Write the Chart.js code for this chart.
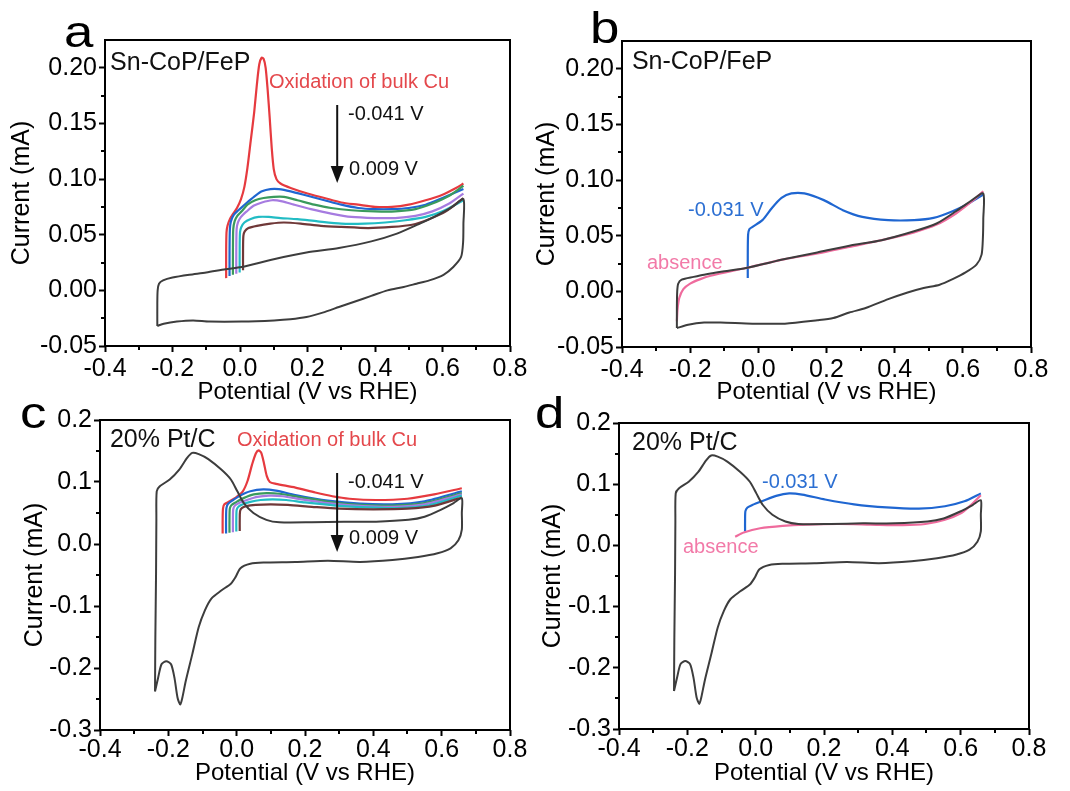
<!DOCTYPE html>
<html>
<head>
<meta charset="utf-8">
<title>Cu UPD cyclic voltammograms</title>
<script src="https://cdn.jsdelivr.net/npm/chart.js@4.4.1/dist/chart.umd.min.js"></script>
<style>
  html, body { margin: 0; padding: 0; background: #fff; }
  body { width: 1070px; height: 791px; position: relative; overflow: hidden; }
  canvas { position: absolute; }
</style>
</head>
<body>
<canvas id="pa" width="540" height="410" style="left:0;top:0"></canvas>
<canvas id="pb" width="540" height="410" style="left:530px;top:0"></canvas>
<canvas id="pc" width="540" height="396" style="left:0;top:395px"></canvas>
<canvas id="pd" width="540" height="396" style="left:530px;top:395px"></canvas>
<script>
// ---------- axis ticks ----------
const potentialTicks = [-0.4, -0.2, 0.0, 0.2, 0.4, 0.6, 0.8];
const snCurrentTicks = [-0.05, 0.00, 0.05, 0.10, 0.15, 0.20];
const ptCurrentTicks = [-0.3, -0.2, -0.1, 0.0, 0.1, 0.2];

// ---------- (a) Sn-CoP/FeP, Cu UPD at different deposition potentials [E (V vs RHE), I (mA)] ----------
const snBase = [[-0.245,-0.032],[-0.245,-0.012],[-0.244,0.000],[-0.240,0.006],[-0.228,0.009],[-0.200,0.0115],[-0.150,0.014],[-0.100,0.016],[-0.043,0.019],[0.005,0.021],[0.100,0.028],[0.197,0.034],[0.293,0.038],[0.389,0.044],[0.465,0.051],[0.533,0.060],[0.581,0.067],[0.629,0.075],[0.662,0.082],
  [0.662,0.060],[0.661,0.043],[0.655,0.030],[0.632,0.021],[0.603,0.014],[0.561,0.009],[0.523,0.006],[0.485,0.003],[0.437,0.000],[0.389,-0.005],[0.341,-0.010],[0.293,-0.015],[0.245,-0.020],[0.197,-0.024],[0.149,-0.026],[0.101,-0.027],[0.005,-0.028],[-0.091,-0.028],[-0.139,-0.027],[-0.187,-0.028],[-0.226,-0.030],[-0.245,-0.032]];
const snUpd041 = [[-0.041,0.011],[-0.041,0.035],[-0.040,0.052],[-0.037,0.058],[-0.030,0.064],[-0.020,0.069],[-0.009,0.074],[0.003,0.082],[0.013,0.093],[0.022,0.110],[0.032,0.135],[0.042,0.160],[0.050,0.185],[0.057,0.203],[0.064,0.209],[0.070,0.208],[0.076,0.200],[0.082,0.180],[0.088,0.155],[0.094,0.128],[0.100,0.109],[0.108,0.100],[0.120,0.096],[0.150,0.092],[0.200,0.087],[0.250,0.083],[0.300,0.079],[0.350,0.077],[0.400,0.075],[0.450,0.075],[0.500,0.077],[0.550,0.081],[0.600,0.086],[0.640,0.092],[0.662,0.096]];
const snUpd031 = [[-0.031,0.013],[-0.031,0.035],[-0.030,0.055],[-0.027,0.062],[-0.018,0.068],[-0.005,0.072],[0.010,0.076],[0.025,0.080],[0.045,0.085],[0.065,0.089],[0.090,0.091],[0.115,0.091],[0.150,0.089],[0.200,0.085],[0.250,0.081],[0.300,0.077],[0.350,0.074],[0.400,0.073],[0.450,0.073],[0.500,0.074],[0.550,0.077],[0.600,0.083],[0.662,0.091]];
const snUpd021 = [[-0.021,0.014],[-0.021,0.035],[-0.020,0.055],[-0.016,0.062],[-0.008,0.067],[0.005,0.071],[0.022,0.077],[0.045,0.081],[0.070,0.083],[0.100,0.084],[0.130,0.084],[0.170,0.081],[0.220,0.077],[0.270,0.074],[0.330,0.072],[0.400,0.071],[0.460,0.071],[0.520,0.073],[0.570,0.078],[0.620,0.085],[0.662,0.094]];
const snUpd011 = [[-0.011,0.015],[-0.011,0.035],[-0.010,0.055],[-0.006,0.061],[0.003,0.066],[0.020,0.071],[0.040,0.076],[0.065,0.079],[0.095,0.081],[0.125,0.080],[0.160,0.077],[0.210,0.073],[0.270,0.069],[0.330,0.066],[0.400,0.065],[0.460,0.065],[0.520,0.067],[0.570,0.071],[0.620,0.078],[0.662,0.087]];
const snUpd001 = [[-0.001,0.016],[-0.001,0.035],[0.000,0.052],[0.004,0.057],[0.013,0.061],[0.030,0.064],[0.055,0.066],[0.085,0.066],[0.120,0.065],[0.170,0.064],[0.230,0.062],[0.300,0.060],[0.370,0.060],[0.430,0.061],[0.490,0.063],[0.550,0.066],[0.600,0.071],[0.662,0.081]];
const snUpd009 = [[0.009,0.018],[0.009,0.035],[0.010,0.049],[0.014,0.053],[0.025,0.056],[0.050,0.058],[0.090,0.060],[0.130,0.061],[0.180,0.060],[0.240,0.058],[0.300,0.057],[0.380,0.056],[0.450,0.057],[0.510,0.059],[0.560,0.064],[0.610,0.071],[0.662,0.083]];

// ---------- (b) Sn-CoP/FeP, with and without Cu2+ ----------
const snBaseB = [[-0.239,-0.033],[-0.239,-0.015],[-0.238,0.000],[-0.235,0.007],[-0.225,0.0105],[-0.190,0.013],[-0.159,0.015],[-0.100,0.018],[-0.036,0.021],[0.078,0.029],[0.173,0.035],[0.267,0.041],[0.362,0.046],[0.457,0.054],[0.523,0.061],[0.580,0.072],[0.627,0.082],[0.660,0.088],
  [0.660,0.065],[0.659,0.049],[0.655,0.033],[0.640,0.024],[0.608,0.017],[0.570,0.011],[0.532,0.006],[0.485,0.003],[0.438,-0.001],[0.381,-0.007],[0.315,-0.015],[0.267,-0.019],[0.220,-0.024],[0.173,-0.026],[0.078,-0.029],[-0.017,-0.029],[-0.111,-0.028],[-0.159,-0.028],[-0.206,-0.030],[-0.239,-0.033]];
const snAbsence = [[-0.239,-0.027],[-0.237,-0.016],[-0.232,-0.006],[-0.220,0.002],[-0.200,0.007],[-0.170,0.011],[-0.140,0.014],[-0.036,0.021],[0.078,0.029],[0.173,0.034],[0.267,0.040],[0.362,0.046],[0.457,0.053],[0.523,0.060],[0.580,0.070],[0.627,0.081],[0.660,0.090]];
const snUpdB = [[-0.031,0.012],[-0.031,0.032],[-0.030,0.051],[-0.026,0.056],[-0.017,0.058],[0.012,0.064],[0.040,0.075],[0.068,0.084],[0.097,0.088],[0.135,0.088],[0.192,0.082],[0.248,0.073],[0.305,0.067],[0.381,0.064],[0.457,0.064],[0.514,0.066],[0.570,0.072],[0.617,0.079],[0.660,0.087]];

// ---------- (c) 20% Pt/C, Cu UPD at different deposition potentials ----------
const ptBase = [[-0.239,-0.238],[-0.238,-0.150],[-0.236,-0.050],[-0.235,0.040],[-0.234,0.085],[-0.225,0.093],[-0.196,0.104],[-0.168,0.120],[-0.145,0.139],[-0.130,0.147],[-0.111,0.145],[-0.083,0.137],[-0.045,0.120],[-0.017,0.104],[0.002,0.085],[0.021,0.066],[0.049,0.050],[0.087,0.039],[0.125,0.035],[0.219,0.035],[0.314,0.036],[0.408,0.036],[0.503,0.039],[0.550,0.044],[0.597,0.055],[0.635,0.066],[0.659,0.074],
  [0.659,0.050],[0.659,0.023],[0.649,0.006],[0.626,-0.007],[0.588,-0.015],[0.531,-0.021],[0.456,-0.026],[0.361,-0.029],[0.267,-0.027],[0.172,-0.029],[0.078,-0.030],[0.040,-0.032],[0.011,-0.039],[-0.003,-0.053],[-0.017,-0.064],[-0.045,-0.075],[-0.074,-0.088],[-0.093,-0.107],[-0.111,-0.134],[-0.130,-0.178],[-0.149,-0.221],[-0.159,-0.248],[-0.165,-0.259],[-0.173,-0.248],[-0.182,-0.216],[-0.192,-0.194],[-0.206,-0.189],[-0.220,-0.194],[-0.230,-0.216],[-0.239,-0.238]];
const ptUpd041 = [[-0.041,0.017],[-0.041,0.040],[-0.040,0.057],[-0.036,0.064],[-0.020,0.069],[0.000,0.076],[0.018,0.085],[0.032,0.102],[0.045,0.128],[0.056,0.146],[0.064,0.151],[0.072,0.147],[0.080,0.130],[0.088,0.110],[0.097,0.100],[0.115,0.097],[0.172,0.091],[0.230,0.083],[0.280,0.077],[0.330,0.073],[0.408,0.071],[0.500,0.073],[0.578,0.080],[0.659,0.090]];
const ptUpd031 = [[-0.031,0.017],[-0.031,0.040],[-0.030,0.058],[-0.025,0.065],[-0.010,0.071],[0.010,0.078],[0.040,0.085],[0.078,0.088],[0.115,0.086],[0.172,0.079],[0.267,0.070],[0.361,0.065],[0.456,0.064],[0.550,0.069],[0.659,0.085]];
const ptUpd021 = [[-0.021,0.018],[-0.021,0.040],[-0.020,0.057],[-0.015,0.063],[0.000,0.068],[0.020,0.074],[0.050,0.080],[0.088,0.082],[0.125,0.081],[0.180,0.076],[0.270,0.068],[0.360,0.063],[0.455,0.062],[0.550,0.066],[0.659,0.082]];
const ptUpd011 = [[-0.011,0.019],[-0.011,0.040],[-0.010,0.056],[-0.005,0.062],[0.010,0.067],[0.030,0.071],[0.060,0.076],[0.095,0.078],[0.135,0.077],[0.190,0.072],[0.280,0.065],[0.370,0.061],[0.460,0.060],[0.550,0.064],[0.659,0.080]];
const ptUpd001 = [[-0.001,0.020],[-0.001,0.040],[0.000,0.055],[0.005,0.060],[0.018,0.064],[0.040,0.068],[0.070,0.071],[0.105,0.072],[0.145,0.071],[0.200,0.067],[0.290,0.062],[0.380,0.059],[0.470,0.058],[0.560,0.062],[0.659,0.078]];
const ptUpd009 = [[0.009,0.021],[0.009,0.040],[0.010,0.053],[0.015,0.058],[0.028,0.061],[0.055,0.063],[0.100,0.064],[0.150,0.063],[0.220,0.060],[0.300,0.057],[0.400,0.056],[0.500,0.057],[0.580,0.062],[0.659,0.075]];

// ---------- (d) 20% Pt/C, with and without Cu2+ ----------
const ptAbsence = [[-0.060,0.014],[-0.035,0.021],[0.013,0.028],[0.079,0.032],[0.146,0.034],[0.241,0.035],[0.336,0.034],[0.431,0.033],[0.497,0.035],[0.554,0.042],[0.602,0.053],[0.630,0.066],[0.659,0.082]];
const ptUpdD = [[-0.031,0.023],[-0.031,0.040],[-0.030,0.056],[-0.024,0.062],[-0.010,0.066],[0.022,0.073],[0.060,0.081],[0.098,0.085],[0.136,0.083],[0.203,0.075],[0.288,0.067],[0.383,0.062],[0.478,0.060],[0.554,0.064],[0.611,0.072],[0.659,0.085]];

// ---------- styling ----------
const FONT = "'Liberation Sans', Arial, Helvetica, sans-serif";
Chart.defaults.font.family = FONT;
const C = {
  base: '#3d3d3d', red: '#e63a3f', blue: '#1f66d1', green: '#3a9a5c',
  purple: '#a67be0', cyan: '#22bcc4', brown: '#6f3838', pink: '#ef6b9d',
  redText: '#e4484c', blueText: '#2c6fd2', pinkText: '#f27aa8'
};

function series(points, color, width) {
  return {
    data: points.map(([x, y]) => ({ x, y })),
    borderColor: color, borderWidth: width || 2.2,
    showLine: true, pointRadius: 0, tension: 0.25, fill: false
  };
}

// minor tick positions sit halfway between the labelled ones
function midpoints(ticks) {
  const out = [];
  for (let i = 0; i < ticks.length - 1; i++) out.push((ticks[i] + ticks[i + 1]) / 2);
  return out;
}

const decor = {
  id: 'decor',
  afterDraw(chart, args, o) {
    const { ctx, chartArea: ca, scales: { x, y } } = chart;
    ctx.save();
    ctx.strokeStyle = '#000';
    ctx.lineWidth = 2;
    ctx.beginPath();
    midpoints(o.xTicks).forEach(v => {
      const px = Math.round(x.getPixelForValue(v));
      ctx.moveTo(px, ca.bottom); ctx.lineTo(px, ca.bottom + 4);
    });
    midpoints(o.yTicks).forEach(v => {
      const py = Math.round(y.getPixelForValue(v));
      ctx.moveTo(ca.left, py); ctx.lineTo(ca.left - 4, py);
    });
    ctx.stroke();
    ctx.strokeRect(ca.left, ca.top, ca.right - ca.left, ca.bottom - ca.top);

    // panel letter
    ctx.save();
    ctx.fillStyle = '#000';
    ctx.font = `44px ${FONT}`;
    ctx.textBaseline = 'alphabetic';
    ctx.translate(o.letter.x, o.letter.y);
    ctx.scale(1.2, 1);
    ctx.fillText(o.letter.t, 0, 0);
    ctx.restore();

    // text notes placed at data positions
    ctx.textBaseline = 'middle';
    ctx.textAlign = 'left';
    o.notes.forEach(n => {
      ctx.fillStyle = n.color;
      ctx.font = `${n.size}px ${FONT}`;
      ctx.fillText(n.t, x.getPixelForValue(n.x), y.getPixelForValue(n.y));
    });

    // downward arrow from the first to the last deposition potential
    if (o.arrow) {
      const ax = x.getPixelForValue(o.arrow.x);
      const y1 = y.getPixelForValue(o.arrow.from);
      const y2 = y.getPixelForValue(o.arrow.to);
      ctx.strokeStyle = '#111'; ctx.fillStyle = '#111';
      ctx.lineWidth = 2;
      ctx.beginPath(); ctx.moveTo(ax, y1); ctx.lineTo(ax, y2 - 14); ctx.stroke();
      ctx.beginPath(); ctx.moveTo(ax - 6.5, y2 - 17); ctx.lineTo(ax + 6.5, y2 - 17); ctx.lineTo(ax, y2); ctx.closePath(); ctx.fill();
    }
    ctx.restore();
  }
};

function fmt(d) { return v => (Math.abs(v) < 1e-9 ? 0 : v).toFixed(d); }

function makePanel(id, p) {
  new Chart(document.getElementById(id), {
    type: 'scatter',
    data: { datasets: p.datasets },
    options: {
      responsive: false, animation: false, devicePixelRatio: 1,
      layout: { padding: { left: 0, top: p.padTop, right: p.padRight, bottom: 0 } },
      plugins: { legend: { display: false }, tooltip: { enabled: false }, decor: p.decor },
      events: [],
      scales: {
        x: {
          type: 'linear', min: potentialTicks[0], max: potentialTicks[potentialTicks.length - 1],
          afterFit: s => { s.height = p.xHeight; },
          afterBuildTicks: s => { s.ticks = potentialTicks.map(v => ({ value: v })); },
          ticks: { padding: p.xTickPad, color: '#000', font: { size: 25 }, maxRotation: 0, autoSkip: false, callback: fmt(1) },
          grid: { display: true, drawOnChartArea: false, drawTicks: true, tickLength: 6, tickWidth: 2, tickColor: '#000' },
          border: { display: false },
          title: { display: true, text: 'Potential (V vs RHE)', color: '#000', font: { size: 24 }, padding: { top: 0, bottom: p.xTitlePad } }
        },
        y: {
          type: 'linear', min: p.yMin, max: p.yMax,
          afterFit: s => { s.width = p.yWidth; },
          afterBuildTicks: s => { s.ticks = p.yTicks.map(v => ({ value: v })); },
          ticks: { padding: 2, color: '#000', font: { size: 25 }, autoSkip: false, callback: fmt(p.yDigits) },
          grid: { display: true, drawOnChartArea: false, drawTicks: true, tickLength: 6, tickWidth: 2, tickColor: '#000' },
          border: { display: false },
          title: { display: true, text: 'Current (mA)', color: '#000', font: { size: 25 }, padding: { top: p.yTitlePad, bottom: 0 } }
        }
      }
    },
    plugins: [decor]
  });
}

makePanel('pa', {
  padTop: 40, padRight: 30, xHeight: 64, yWidth: 105, xTickPad: 2, xTitlePad: 3.5, yTitlePad: 7.5,
  yMin: -0.05, yMax: 0.225, yTicks: snCurrentTicks, yDigits: 2,
  datasets: [
    series(snBase, C.base, 2), series(snUpd009, C.brown), series(snUpd001, C.cyan),
    series(snUpd011, C.purple), series(snUpd021, C.green), series(snUpd031, C.blue), series(snUpd041, C.red)
  ],
  decor: {
    xTicks: potentialTicks, yTicks: snCurrentTicks,
    letter: { t: 'a', x: 64, y: 47 },
    notes: [
      { t: 'Sn-CoP/FeP', x: -0.385, y: 0.2043, size: 25, color: '#111' },
      { t: 'Oxidation of bulk Cu', x: 0.086, y: 0.1864, size: 20, color: C.redText },
      { t: '-0.041 V', x: 0.320, y: 0.1585, size: 20, color: '#111' },
      { t: '0.009 V', x: 0.323, y: 0.1082, size: 20, color: '#111' }
    ],
    arrow: { x: 0.288, from: 0.1666, to: 0.0965 }
  }
});

makePanel('pb', {
  padTop: 41, padRight: 39, xHeight: 63, yWidth: 92, xTickPad: 2, xTitlePad: 3.5, yTitlePad: 2,
  yMin: -0.05, yMax: 0.225, yTicks: snCurrentTicks, yDigits: 2,
  datasets: [ series(snBaseB, C.base, 2), series(snAbsence, C.pink), series(snUpdB, C.blue) ],
  decor: {
    xTicks: potentialTicks, yTicks: snCurrentTicks,
    letter: { t: 'b', x: 60, y: 43 },
    notes: [
      { t: 'Sn-CoP/FeP', x: -0.371, y: 0.2061, size: 25, color: '#111' },
      { t: '-0.031 V', x: -0.2064, y: 0.0731, size: 20, color: C.blueText },
      { t: 'absence', x: -0.3267, y: 0.0255, size: 20, color: C.pinkText }
    ]
  }
});

makePanel('pc', {
  padTop: 25, padRight: 30, xHeight: 61, yWidth: 100, xTickPad: -1, xTitlePad: 3.5, yTitlePad: 20,
  yMin: -0.3, yMax: 0.2, yTicks: ptCurrentTicks, yDigits: 1,
  datasets: [
    series(ptBase, C.base, 2), series(ptUpd009, C.brown), series(ptUpd001, C.cyan),
    series(ptUpd011, C.purple), series(ptUpd021, C.green), series(ptUpd031, C.blue), series(ptUpd041, C.red)
  ],
  decor: {
    xTicks: potentialTicks, yTicks: ptCurrentTicks,
    letter: { t: 'c', x: 20, y: 33 },
    notes: [
      { t: '20% Pt/C', x: -0.371, y: 0.1677, size: 25, color: '#111' },
      { t: 'Oxidation of bulk Cu', x: 0.001, y: 0.1677, size: 20, color: C.redText },
      { t: '-0.041 V', x: 0.326, y: 0.100, size: 20, color: '#111' },
      { t: '0.009 V', x: 0.329, y: 0.0097, size: 20, color: '#111' }
    ],
    arrow: { x: 0.294, from: 0.1145, to: -0.0129 }
  }
});

makePanel('pd', {
  padTop: 28, padRight: 41, xHeight: 62, yWidth: 89, xTickPad: -1, xTitlePad: 3.5, yTitlePad: 8,
  yMin: -0.3, yMax: 0.2, yTicks: ptCurrentTicks, yDigits: 1,
  datasets: [ series(ptBase, C.base, 2), series(ptAbsence, C.pink), series(ptUpdD, C.blue) ],
  decor: {
    xTicks: potentialTicks, yTicks: ptCurrentTicks,
    letter: { t: 'd', x: 5, y: 33 },
    notes: [
      { t: '20% Pt/C', x: -0.362, y: 0.1673, size: 25, color: '#111' },
      { t: '-0.031 V', x: 0.0186, y: 0.102, size: 20, color: C.blueText },
      { t: 'absence', x: -0.2127, y: -0.0026, size: 20, color: C.pinkText }
    ]
  }
});
</script>
</body>
</html>
